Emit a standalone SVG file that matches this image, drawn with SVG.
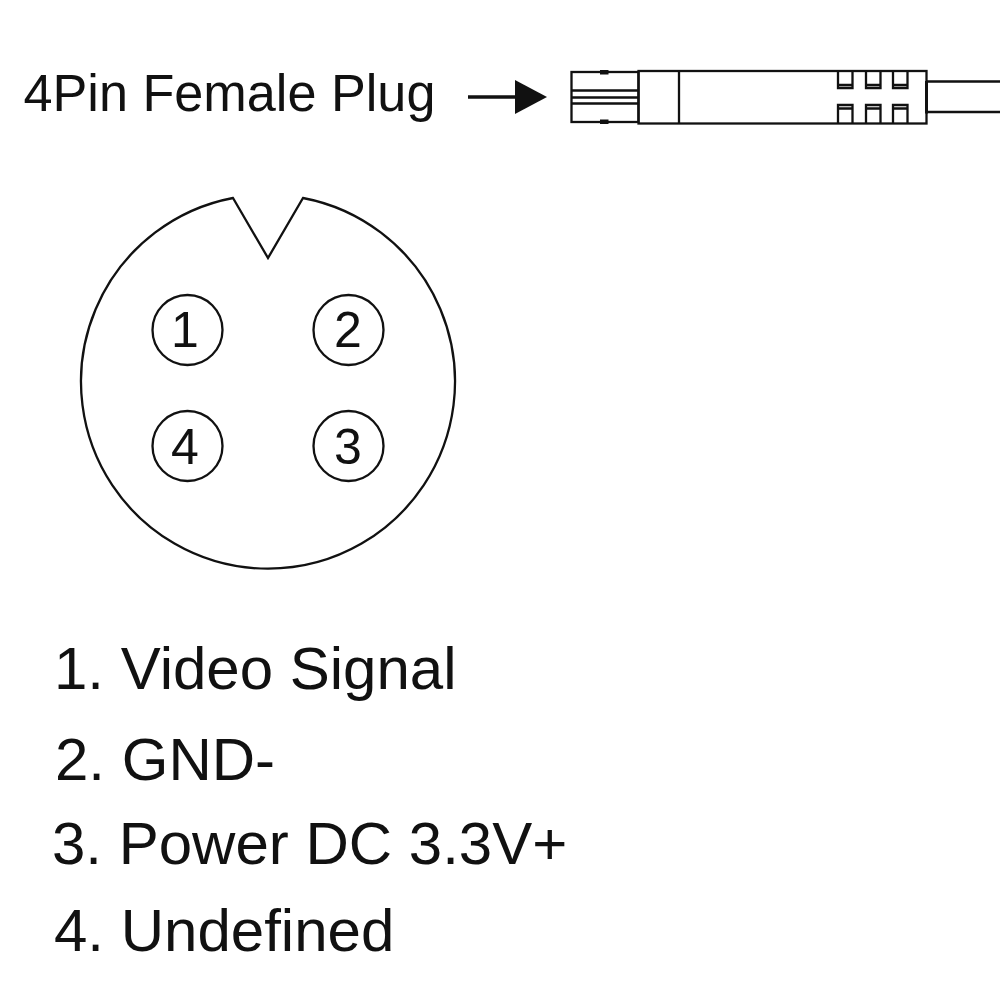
<svg xmlns="http://www.w3.org/2000/svg" width="1000" height="1000" viewBox="0 0 1000 1000">
<style>
text{font-family:"Liberation Sans",Arial,sans-serif;fill:#111}
.l{fill:none;stroke:#111;stroke-width:2.300}
.t{font-size:52.200px}
.p{font-size:50px;text-anchor:middle}
.i{font-size:60px}
</style>
<rect width="1000" height="1000" fill="#fff"/>
<g id="title"><text class="t" x="23.500" y="111">4Pin Female Plug</text></g>
<g id="connectors">
<line x1="468" y1="97" x2="520" y2="97" stroke="#111" stroke-width="3.500"/>
<polygon points="515,80 547,97 515,114" fill="#111"/>
</g>
<g id="plug">
<rect class="l" x="571.500" y="72" width="67" height="50"/>
<path class="l" d="M571.500 90.500H638M571.500 97.500H638M571.500 103.500H638"/>
<rect x="600" y="70" width="8.500" height="4.500" fill="#111"/>
<rect x="600" y="119.500" width="8.500" height="4.500" fill="#111"/>
<rect class="l" x="638.500" y="71" width="288" height="52.500"/>
<path class="l" d="M679 71V123.500"/>
<path class="l" d="M838 71V88H852.500V71M866 71V88H880.500V71M893 71V88H907.500V71"/>
<path class="l" d="M838 85H852.500M866 85H880.500M893 85H907.500"/>
<path class="l" d="M838 123V105H852.500V123M866 123V105H880.500V123M893 123V105H907.500V123"/>
<path class="l" d="M838 108.500H852.500M866 108.500H880.500M893 108.500H907.500"/>
<path d="M926.500 81V113.500" fill="none" stroke="#111" stroke-width="3"/>
<path class="l" d="M926 81.500H1000M926 112H1000"/>
</g>
<g id="socket"><path class="l" d="M233 198L268 258L303 198A187 187 0 1 1 233 198Z"/></g>
<g id="pin1"><circle class="l" cx="187.500" cy="330" r="35"/><text class="p" x="185" y="347">1</text></g>
<g id="pin2"><circle class="l" cx="348.500" cy="330" r="35"/><text class="p" x="348" y="347">2</text></g>
<g id="pin4"><circle class="l" cx="187.500" cy="446" r="35"/><text class="p" x="185" y="464">4</text></g>
<g id="pin3"><circle class="l" cx="348.500" cy="446" r="35"/><text class="p" x="348" y="464">3</text></g>
<g id="legend">
<text class="i" x="54" y="689">1. Video Signal</text>
<text class="i" x="55" y="780">2. GND-</text>
<text class="i" x="52" y="864">3. Power DC 3.3V+</text>
<text class="i" x="54" y="951">4. Undefined</text>
</g>
</svg>
